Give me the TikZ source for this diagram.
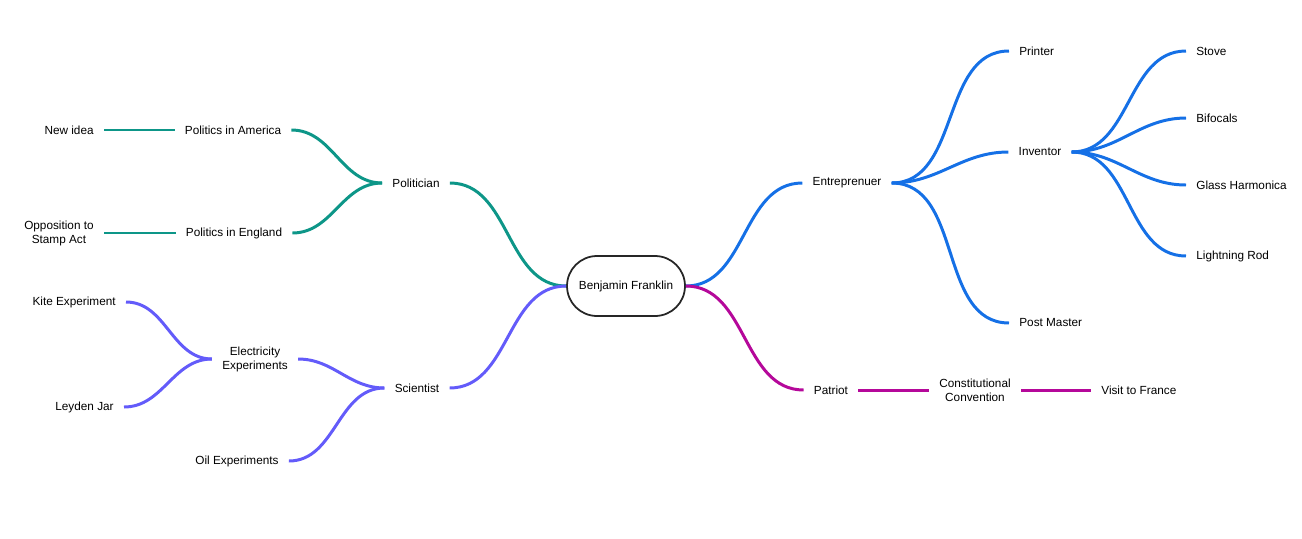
\documentclass[tikz,border=0pt]{standalone}
\usepackage{fontspec}
\setmainfont{Liberation Sans}
\definecolor{polcol}{RGB}{13,150,136}
\definecolor{scicol}{RGB}{99,91,250}
\definecolor{entcol}{RGB}{21,112,230}
\definecolor{patcol}{RGB}{181,8,154}
\tikzset{
  topic/.style={inner xsep=0.2cm, inner ysep=2pt, align=center, font=\fontsize{6.7}{8}\selectfont},
  branch/.style={line width=1.7pt, out=#1, in=#1+180},
  branch/.default=0
}

\begin{document}
\begin{tikzpicture}[x=0.02cm, y=-0.02cm]
\useasboundingbox (0,0) rectangle (1302,538);
\node[draw=black!85, line width=1pt, rounded corners=0.6cm, minimum width=2.36cm, minimum height=1.2cm, font=\fontsize{6.7}{8}\selectfont] (root) at (626,286) {Benjamin Franklin};
% left side
\node[topic] (pol) at (416,183) {Politician};
\node[topic] (sci) at (417,388) {Scientist};
\node[topic] (pa) at (233,130) {Politics in America};
\node[topic] (pe) at (234,233) {Politics in England};
\node[topic, anchor=east] (ni) at (104,130) {New idea};
\node[topic, anchor=east] (op) at (104,233) {Opposition to\\Stamp Act};
\node[topic] (ee) at (255,359) {Electricity\\Experiments};
\node[topic] (oe) at (237,461) {Oil Experiments};
\node[topic, anchor=east] (ke) at (126,302) {Kite Experiment};
\node[topic, anchor=east] (lj) at (124,407) {Leyden Jar};
% right side
\node[topic] (ent) at (847,183) {Entreprenuer};
\node[topic] (pat) at (831,390) {Patriot};
\node[topic, anchor=west] (pr) at (1009,51) {Printer};
\node[topic] (inv) at (1040,152) {Inventor};
\node[topic, anchor=west] (pm) at (1009,323) {Post Master};
\node[topic, anchor=west] (st) at (1186,51) {Stove};
\node[topic, anchor=west] (bi) at (1186,118) {Bifocals};
\node[topic, anchor=west] (gh) at (1186,185) {Glass Harmonica};
\node[topic, anchor=west] (lr) at (1186,256) {Lightning Rod};
\node[topic] (cc) at (975,390) {Constitutional\\Convention};
\node[topic, anchor=west] (vf) at (1091,390) {Visit to France};

\draw[polcol, branch=180] (root.west) to (pol.east);
\draw[polcol, branch=180] (pol.west) to (pa.east);
\draw[polcol, branch=180] (pol.west) to (pe.east);
\draw[polcol, line width=1.7pt] (pa.west) -- (ni.east);
\draw[polcol, line width=1.7pt] (pe.west) -- (op.east);

\draw[scicol, branch=180] (root.west) to (sci.east);
\draw[scicol, branch=180] (sci.west) to (ee.east);
\draw[scicol, branch=180] (sci.west) to (oe.east);
\draw[scicol, branch=180] (ee.west) to (ke.east);
\draw[scicol, branch=180] (ee.west) to (lj.east);

\draw[entcol, branch] (root.east) to (ent.west);
\foreach \t in {pr,inv,pm}
  \draw[entcol, branch] (ent.east) to (\t.west);
\foreach \t in {st,bi,gh,lr}
  \draw[entcol, branch] (inv.east) to (\t.west);

\draw[patcol, branch] (root.east) to (pat.west);
\draw[patcol, line width=1.7pt] (pat.east) -- (cc.west);
\draw[patcol, line width=1.7pt] (cc.east) -- (vf.west);
\end{tikzpicture}
\end{document}
